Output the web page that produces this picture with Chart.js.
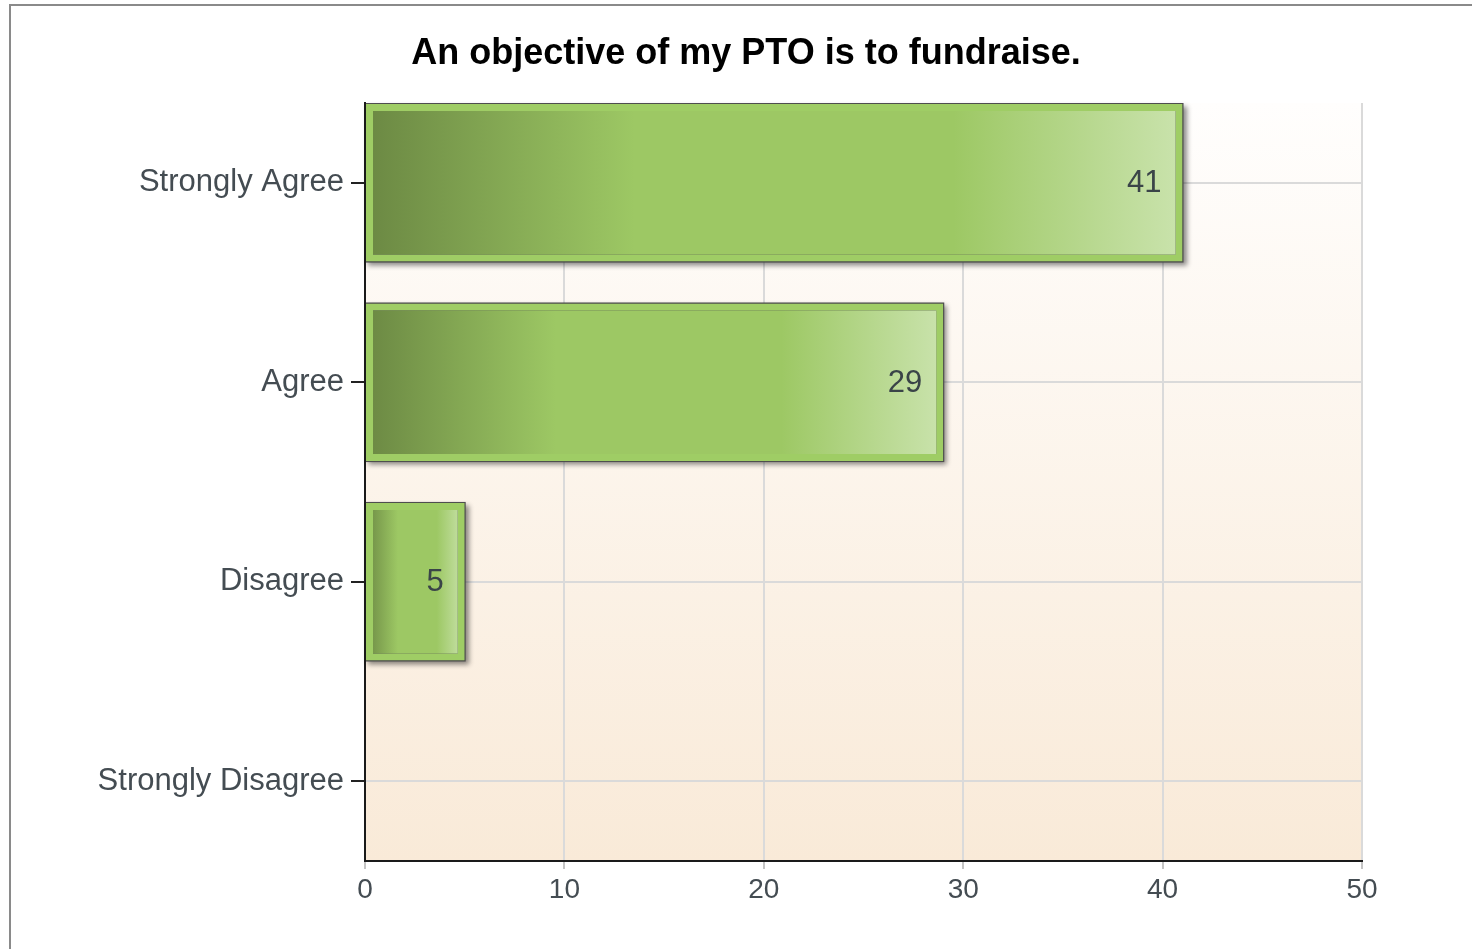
<!DOCTYPE html>
<html>
<head>
<meta charset="utf-8">
<script src="https://cdn.jsdelivr.net/npm/chart.js@4/dist/chart.umd.min.js"></script>
<style>
    html, body { margin: 0; padding: 0; background: #fff; overflow: hidden; }
    #frame {
        position: absolute; left: 9px; top: 4px;
        width: 1500px; height: 1000px;
        border: 2px solid #8a8a8a;
    }
    #wrap { position: absolute; left: 0; top: 0; width: 1472px; height: 949px; }
</style>
</head>
<body>
<div id="frame"></div>
<div id="wrap"><canvas id="ptoChart"></canvas></div>
<script>
// chart data
const chartTitle = 'An objective of my PTO is to fundraise.';
const categories = ['Strongly Agree', 'Agree', 'Disagree', 'Strongly Disagree'];
const responseCounts = [41, 29, 5, 0];
const xTicks = [0, 10, 20, 30, 40, 50];

const fontFamily = '"Liberation Sans", Arial, sans-serif';

// plot area background, light at top, peach at the bottom
const plotBackground = {
    id: 'plotBackground',
    beforeDraw(chart) {
        const { ctx, chartArea: a } = chart;
        const g = ctx.createLinearGradient(0, a.top, 0, a.bottom);
        g.addColorStop(0, '#fffefd');
        g.addColorStop(1, '#f9ead8');
        ctx.save();
        ctx.fillStyle = g;
        ctx.fillRect(a.left, a.top, a.right - a.left, a.bottom - a.top);
        ctx.restore();
    }
};

// dark outline + drop shadow behind each bar
const barShadow = {
    id: 'barShadow',
    beforeDatasetsDraw(chart) {
        const ctx = chart.ctx;
        chart.getDatasetMeta(0).data.forEach((bar, i) => {
            if (!responseCounts[i]) return;
            const p = bar.getProps(['x', 'y', 'base', 'height'], true);
            ctx.save();
            ctx.shadowColor = 'rgba(0,0,0,0.45)';
            ctx.shadowBlur = 5;
            ctx.shadowOffsetX = 3;
            ctx.shadowOffsetY = 3;
            ctx.fillStyle = '#4e4e4e';
            ctx.fillRect(p.base - 1, p.y - p.height / 2 - 1, p.x - p.base + 2, p.height + 2);
            ctx.restore();
        });
    }
};

// value text inside the end of each bar
const valueLabels = {
    id: 'valueLabels',
    afterDatasetsDraw(chart) {
        const ctx = chart.ctx;
        ctx.save();
        ctx.font = '31px ' + fontFamily;
        ctx.fillStyle = '#3a4448';
        ctx.textAlign = 'right';
        ctx.textBaseline = 'middle';
        chart.getDatasetMeta(0).data.forEach((bar, i) => {
            if (!responseCounts[i]) return;
            const p = bar.getProps(['x', 'y'], true);
            ctx.fillText(String(responseCounts[i]), p.x - 21, p.y + 1);
        });
        ctx.restore();
    }
};

function barGradient(context) {
    const chart = context.chart;
    const xs = chart.scales.x;
    if (!xs || !context.raw) return '#9ec765';
    const x0 = xs.getPixelForValue(0);
    const x1 = xs.getPixelForValue(context.raw.x);
    if (!isFinite(x0) || !isFinite(x1) || x1 <= x0) return '#9ec765';
    const g = chart.ctx.createLinearGradient(x0, 0, x1, 0);
    g.addColorStop(0, '#6b8843');
    g.addColorStop(0.33, '#9dc864');
    g.addColorStop(0.72, '#9dc864');
    g.addColorStop(1, '#cae3ad');
    return g;
}

const ctx = document.getElementById('ptoChart').getContext('2d');
new Chart(ctx, {
    type: 'bar',
    data: {
        datasets: [{
            data: responseCounts.map((v, i) => ({ x: v, y: i })),
            backgroundColor: barGradient,
            borderColor: '#9fcd65',
            borderWidth: 7,
            borderSkipped: false,
            categoryPercentage: 0.79,
            barPercentage: 1
        }]
    },
    options: {
        indexAxis: 'y',
        responsive: true,
        maintainAspectRatio: false,
        animation: false,
        layout: { padding: { left: 20, right: 0, top: 0, bottom: 0 } },
        plugins: {
            legend: { display: false },
            tooltip: { enabled: false },
            title: {
                display: true,
                text: chartTitle,
                color: '#000',
                font: { family: fontFamily, size: 36, weight: 'bold', lineHeight: 1.2 },
                padding: { top: 32.5, bottom: 27.3 }
            }
        },
        scales: {
            x: {
                type: 'linear',
                min: xTicks[0],
                max: xTicks[xTicks.length - 1],
                afterBuildTicks: s => { s.ticks = xTicks.map(v => ({ value: v })); },
                afterFit: s => { s.height = 88; },
                grid: { color: '#dadada', lineWidth: 2, tickLength: 8, tickColor: '#c4c4c4', tickWidth: 2 },
                border: { color: '#1a1a1a', width: 2, z: 1 },
                ticks: { font: { family: fontFamily, size: 28 }, color: '#444c52', padding: 4 }
            },
            y: {
                type: 'linear',
                reverse: true,
                offset: false,
                min: -0.4,
                max: categories.length - 0.6,
                afterBuildTicks: s => { s.ticks = categories.map((c, i) => ({ value: i })); },
                afterFit: s => { s.width = 345; },
                grid: { offset: false, color: '#dadada', lineWidth: 2, tickLength: 14, tickColor: '#222', tickWidth: 2 },
                border: { color: '#1a1a1a', width: 2, z: 1 },
                ticks: {
                    font: { family: fontFamily, size: 31 },
                    color: '#444c52',
                    padding: 7,
                    autoSkip: false,
                    callback: v => categories[v]
                }
            },
            // empty right-hand axis, only reserves the margin right of the plot
            yRight: {
                type: 'linear',
                position: 'right',
                grid: { display: false },
                border: { display: false },
                ticks: { display: false },
                afterFit: s => { s.width = 110; }
            }
        }
    },
    plugins: [plotBackground, barShadow, valueLabels]
});
</script>
</body>
</html>
